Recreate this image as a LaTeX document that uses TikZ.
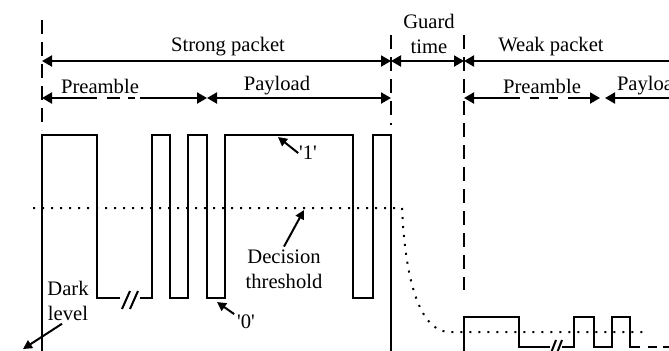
\documentclass[tikz,border=0pt]{standalone}
\usepackage{fontspec}
\setmainfont{Liberation Serif}
\usetikzlibrary{arrows.meta,calc}

\begin{document}
\begin{tikzpicture}[x=0.5pt,y=-0.5pt,line width=1pt,
  font=\fontsize{10.3}{12.5}\selectfont,
  every node/.style={inner sep=0pt},
  okUc/.style={-{Triangle[length=5pt,width=5.5pt]}},
  okBas/.style={{Triangle[length=5pt,width=5.5pt]}-},
  ikiOk/.style={{Triangle[length=5pt,width=5.5pt]}-{Triangle[length=5pt,width=5.5pt]}},
  etiketOk/.style={-{Triangle[length=4.5pt,width=4.5pt]}},
  sinirCizgi/.style={dash pattern=on 7pt off 4pt},
  esikCizgi/.style={dash pattern=on 1pt off 3.5pt}]
\useasboundingbox (0,0) rectangle (669,350);
% packet borders
\coordinate (s0) at (42,61);
\coordinate (s1) at (391,61);
\coordinate (s2) at (464,61);
\coordinate (s3) at (680,61);
\coordinate (p0) at (42,98);
\coordinate (p1) at (207,98);
\coordinate (p2) at (391,98);
\coordinate (w0) at (464,98);
\coordinate (w1) at (600,98);
\coordinate (w2) at (605,98);
\coordinate (w3) at (680,98);
\draw[sinirCizgi] (42,20)--(42,130);
\draw[sinirCizgi] (391,35)--(391,125);
\draw[sinirCizgi] (464,35)--(464,290);
% dimension arrows
\draw[ikiOk] (s0)--(s1);
\draw[ikiOk] (s1)--(s2);
\draw[okBas] (s2)--(s3);
\node (guclu) at (228,47) {Strong packet};
\node (koruma) at (429,34) [align=center] {Guard\\time};
\node (zayif) at (551,47) {Weak packet};
\draw[okBas] (p0)--($(p0)+(55,0)$);
\draw[dash pattern=on 6.5pt off 4pt] ($(p0)+(65,0)$)--($(p0)+(93,0)$);
\draw[okUc] ($(p0)+(98,0)$)--(p1);
\draw[ikiOk] (p1)--(p2);
\node (onEk1) at (100,86) {Preamble};
\node (veri1) at (277,86) {Payload};
\draw[okBas] (w0)--($(w0)+(56,0)$);
\draw[dash pattern=on 4.5pt off 5pt] ($(w0)+(66,0)$)--($(w0)+(95,0)$);
\draw[okUc] ($(w0)+(104,0)$)--(w1);
\draw[okBas] (w2)--(w3);
\node (onEk2) at (542,86) {Preamble};
\node (veri2) at (616,86) [anchor=west] {Payload};
% strong signal
\draw (42,352)--(42,135)--(97,135)--(97,298)--(120,298);
\draw (122,309)--(130,291);
\draw (130,309)--(138,291);
\draw (140,298)--(152,298)--(152,135)--(170,135)--(170,298)--(188,298)--(188,135)
  --(207,135)--(207,298)--(225,298)--(225,135)--(353,135)--(353,298)--(373,298)
  --(373,135)--(391,135)--(391,352);
% weak signal
\draw (464,352)--(464,317)--(519,317)--(519,347)--(550,347);
\draw (551,353)--(556,340);
\draw (557,353)--(562,340);
\draw (562,347)--(574,347)--(574,317)--(594,317)--(594,347)--(612,347)--(612,317)
  --(630,317)--(630,347)--(640,347);
\draw[dash pattern=on 4.5pt off 3pt] (648,347)--(680,347);
% decision threshold
\draw[esikCizgi] (33,208)--(402,208) .. controls (405,275) and (418,332) .. (450,332)--(647,332);
% labels
\node (bir) at (308,153) {\textquotesingle 1\textquotesingle};
\coordinate (birUc) at (278,137);
\draw[etiketOk] (bir.west)--(birUc);
\node (sifir) at (246,322) {\textquotesingle 0\textquotesingle};
\coordinate (sifirUc) at (217,302);
\draw[etiketOk] ([xshift=-1pt]sifir.north west)--(sifirUc);
\node (karar) at (284,269) [align=center] {Decision\\threshold};
\coordinate (kararUc) at (304,210);
\draw[etiketOk] ([yshift=1pt]karar.north)--(kararUc);
\node (karanlik) at (68,301) [align=center] {Dark\\level};
\coordinate (karanlikUc) at (23,349);
\draw[etiketOk] ([xshift=-3pt,yshift=-1pt]karanlik.south)--(karanlikUc);
\end{tikzpicture}
\end{document}
